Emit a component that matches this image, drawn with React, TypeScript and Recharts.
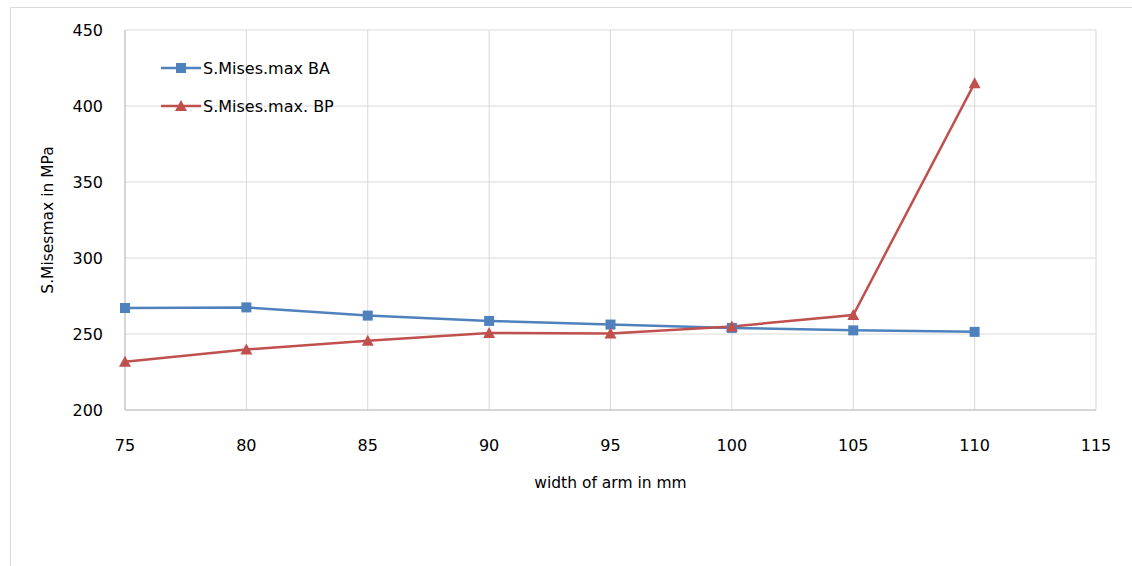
import { LineChart, Line, XAxis, YAxis, CartesianGrid } from "recharts";

const widths = [75, 80, 85, 90, 95, 100, 105, 110];
const misesBA = [267.1, 267.5, 262.1, 258.6, 256.2, 254.0, 252.4, 251.4];
const misesBP = [231.7, 239.8, 245.5, 250.7, 250.3, 255.0, 262.5, 415.0];
const xTicks = [75, 80, 85, 90, 95, 100, 105, 110, 115];
const yTicks = [200, 250, 300, 350, 400, 450];

const BLUE = "#4F81BD";
const RED = "#C0504D";
const FONT = "'DejaVu Sans', sans-serif";

const data = widths.map((w, i) => ({ w, ba: misesBA[i], bp: misesBP[i] }));

const Square = (props: any) => {
  const { cx, cy } = props;
  if (cx == null || cy == null) return null;
  return <rect x={cx - 5} y={cy - 5} width={10} height={10} fill={BLUE} />;
};

const Triangle = (props: any) => {
  const { cx, cy } = props;
  if (cx == null || cy == null) return null;
  return <polygon points={`${cx},${cy - 6} ${cx + 6},${cy + 5} ${cx - 6},${cy + 5}`} fill={RED} />;
};

const legendItems = [
  { label: "S.Mises.max BA", color: BLUE, shape: "square" },
  { label: "S.Mises.max. BP", color: RED, shape: "triangle" },
];

const LegendBox = () => (
  <div style={{ position: "absolute", left: 161, top: 49, fontFamily: FONT, fontSize: 16, color: "#000" }}>
    {legendItems.map((it) => (
      <div key={it.label} style={{ display: "flex", alignItems: "center", height: 38 }}>
        <svg width={40} height={14}>
          <line x1={0} y1={7} x2={40} y2={7} stroke={it.color} strokeWidth={2.5} />
          {it.shape === "square" ? (
            <rect x={15} y={2} width={10} height={10} fill={it.color} />
          ) : (
            <polygon points="20,1 26,12 14,12" fill={it.color} />
          )}
        </svg>
        <span style={{ marginLeft: 2 }}>{it.label}</span>
      </div>
    ))}
  </div>
);

export default function App() {
  return (
    <div style={{ position: "absolute", left: 0, top: 0, width: 1132, height: 566, background: "#fff" }}>
      <div
        style={{
          position: "absolute",
          left: 10,
          top: 7,
          width: 1130,
          height: 570,
          borderTop: "1px solid #D9D9D9",
          borderLeft: "1px solid #D9D9D9",
        }}
      />
      <LineChart
        width={1132}
        height={566}
        data={data}
        margin={{ top: 30, right: 36, bottom: 126, left: 65 }}
        style={{ position: "absolute", left: 0, top: 0 }}
      >
        <CartesianGrid stroke="#D9D9D9" strokeWidth={1} />
        <XAxis
          dataKey="w"
          type="number"
          domain={[75, 115]}
          ticks={xTicks}
          interval={0}
          height={30}
          axisLine={{ stroke: "#BFBFBF" }}
          tickLine={false}
          tickMargin={24}
          tick={{ fontFamily: FONT, fontSize: 16, fill: "#000" }}
          label={{ value: "width of arm in mm", position: "insideBottom", offset: -48, style: { fontFamily: FONT, fontSize: 15.5, fill: "#000" } }}
        />
        <YAxis
          type="number"
          domain={[200, 450]}
          ticks={yTicks}
          interval={0}
          width={60}
          axisLine={{ stroke: "#BFBFBF" }}
          tickLine={false}
          tickMargin={16}
          tick={{ fontFamily: FONT, fontSize: 16, fill: "#000" }}
          label={{ value: "S.Misesmax in MPa", angle: -90, position: "insideLeft", offset: -18, style: { fontFamily: FONT, fontSize: 15.5, fill: "#000", textAnchor: "middle" } }}
        />
        <Line dataKey="ba" stroke={BLUE} strokeWidth={2.5} dot={<Square />} isAnimationActive={false} />
        <Line dataKey="bp" stroke={RED} strokeWidth={2.5} dot={<Triangle />} isAnimationActive={false} />
      </LineChart>
      <LegendBox />
    </div>
  );
}
